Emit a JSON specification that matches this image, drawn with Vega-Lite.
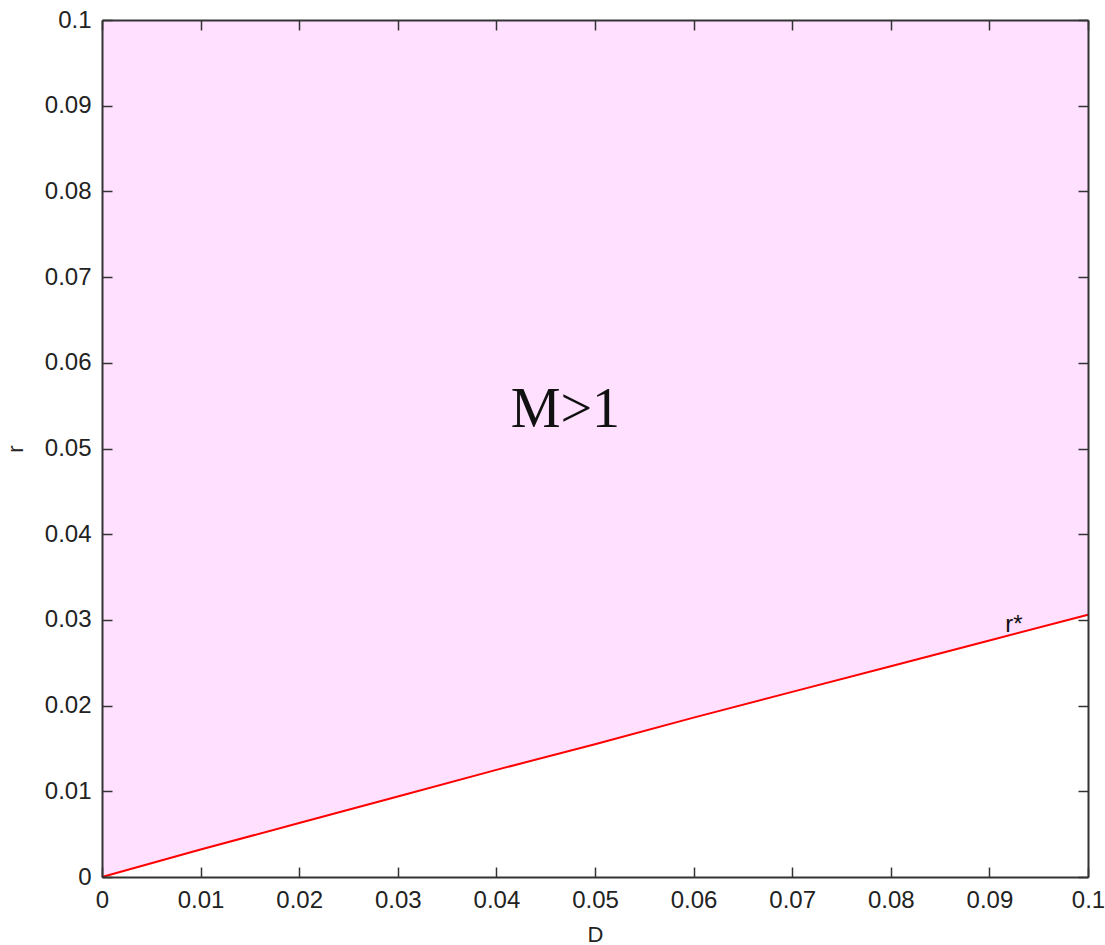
{
  "$schema": "https://vega.github.io/schema/vega-lite/v6.json",
  "width": 986,
  "height": 857,
  "autosize": "none",
  "padding": {"left": 102, "top": 20, "right": 17, "bottom": 68},
  "background": "white",
  "config": {
    "view": {"stroke": null},
    "font": "Liberation Sans",
    "axis": {
      "domain": true,
      "domainColor": "#333333",
      "domainWidth": 2,
      "grid": false,
      "tickColor": "#333333",
      "tickWidth": 1.5,
      "tickSize": -10,
      "labelFlush": false,
      "labelFont": "Liberation Sans",
      "labelFontSize": 24,
      "labelColor": "#222222",
      "titleFont": "Liberation Sans",
      "titleFontSize": 22,
      "titleFontWeight": "normal",
      "titleColor": "#222222"
    }
  },
  "datasets": {
    "curve": [
      {"D": 0.0, "r": 0.0, "top": 0.1},
      {"D": 0.01, "r": 0.0032, "top": 0.1},
      {"D": 0.02, "r": 0.0063, "top": 0.1},
      {"D": 0.03, "r": 0.0094, "top": 0.1},
      {"D": 0.04, "r": 0.0125, "top": 0.1},
      {"D": 0.05, "r": 0.0155, "top": 0.1},
      {"D": 0.06, "r": 0.0186, "top": 0.1},
      {"D": 0.07, "r": 0.0216, "top": 0.1},
      {"D": 0.08, "r": 0.0246, "top": 0.1},
      {"D": 0.09, "r": 0.0276, "top": 0.1},
      {"D": 0.1, "r": 0.0306, "top": 0.1}
    ],
    "region": [{"D": 0.047, "r": 0.0525, "label": "M>1"}],
    "curveLabel": [{"D": 0.0916, "r": 0.0286, "label": "r*"}]
  },
  "resolve": {"axis": {"x": "independent", "y": "independent"}},
  "layer": [
    {
      "data": {"name": "curve"},
      "mark": {"type": "area", "fill": "#ffe0ff", "opacity": 1},
      "encoding": {
        "x": {
          "field": "D", "type": "quantitative",
          "scale": {"domain": [0, 0.1], "nice": false, "zero": false},
          "axis": {
            "orient": "bottom",
            "zindex": 2,
            "values": [0, 0.01, 0.02, 0.03, 0.04, 0.05, 0.06, 0.07, 0.08, 0.09, 0.1],
            "format": "~g",
            "labelPadding": 21,
            "title": "D",
            "titlePadding": 12
          }
        },
        "y": {
          "field": "r", "type": "quantitative",
          "scale": {"domain": [0, 0.1], "nice": false, "zero": false},
          "axis": {
            "orient": "left",
            "zindex": 2,
            "values": [0, 0.01, 0.02, 0.03, 0.04, 0.05, 0.06, 0.07, 0.08, 0.09, 0.1],
            "format": "~g",
            "labelPadding": 21,
            "title": "r",
            "titlePadding": 17
          }
        },
        "y2": {"field": "top"}
      }
    },
    {
      "data": {"name": "curve"},
      "mark": {"type": "line", "color": "#ff0000", "strokeWidth": 2},
      "encoding": {
        "x": {
          "field": "D", "type": "quantitative",
          "axis": {
            "orient": "top",
            "zindex": 2,
            "values": [0, 0.01, 0.02, 0.03, 0.04, 0.05, 0.06, 0.07, 0.08, 0.09, 0.1],
            "labels": false,
            "title": null
          }
        },
        "y": {
          "field": "r", "type": "quantitative",
          "axis": {
            "orient": "right",
            "zindex": 2,
            "values": [0, 0.01, 0.02, 0.03, 0.04, 0.05, 0.06, 0.07, 0.08, 0.09, 0.1],
            "labels": false,
            "title": null
          }
        }
      }
    },
    {
      "data": {"name": "region"},
      "mark": {"type": "text", "font": "Liberation Serif", "fontSize": 56, "align": "center", "baseline": "alphabetic", "color": "#111111"},
      "encoding": {
        "x": {"field": "D", "type": "quantitative", "axis": null},
        "y": {"field": "r", "type": "quantitative", "axis": null},
        "text": {"field": "label"}
      }
    },
    {
      "data": {"name": "curveLabel"},
      "mark": {"type": "text", "font": "Liberation Sans", "fontSize": 24, "align": "left", "baseline": "alphabetic", "color": "#111111"},
      "encoding": {
        "x": {"field": "D", "type": "quantitative", "axis": null},
        "y": {"field": "r", "type": "quantitative", "axis": null},
        "text": {"field": "label"}
      }
    }
  ]
}
